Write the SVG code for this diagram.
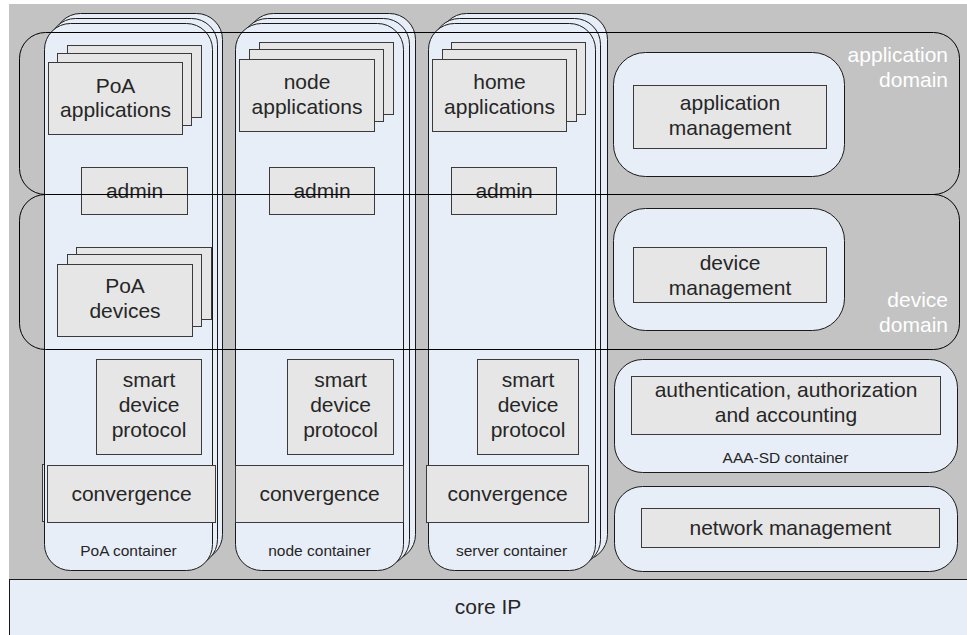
<svg xmlns="http://www.w3.org/2000/svg" width="967" height="635" viewBox="0 0 967 635">
<style>
.bg{fill:#c3c3c3;stroke:none}
.cont{fill:#e8eef8;stroke:#1a1a1a;stroke-width:1}
.box{fill:#e6e6e6;stroke:#3a3a3a;stroke-width:1}
.dom{fill:none;stroke:#000;stroke-width:1}
.t{font-family:"Liberation Sans",Arial,sans-serif;font-size:21px;fill:#262626;text-anchor:middle}
.s{font-family:"Liberation Sans",Arial,sans-serif;font-size:15.5px;fill:#262626;text-anchor:middle}
.w{font-family:"Liberation Sans",Arial,sans-serif;font-size:21px;fill:#ffffff;text-anchor:end}
</style>
<rect class="bg" x="9" y="4" width="958" height="576"/>

<g id="poa-container">
  <rect class="cont" x="54.5" y="13.5" width="168" height="547" rx="26"/>
  <rect class="cont" x="49.5" y="18.5" width="168" height="547" rx="26"/>
  <rect class="box" x="42.5" y="464.5" width="170" height="57"/>
  <rect class="cont" x="44.5" y="23.5" width="168" height="547" rx="26"/>
  <text class="s" x="128.5" y="556">PoA container</text>
</g>
<g id="node-container">
  <rect class="cont" x="247.5" y="13.5" width="168" height="547" rx="26"/>
  <rect class="cont" x="241.5" y="18.5" width="168" height="547" rx="26"/>
  <rect class="cont" x="235.5" y="23.5" width="168" height="547" rx="26"/>
  <text class="s" x="319.5" y="556">node container</text>
</g>
<g id="server-container">
  <rect class="cont" x="440.5" y="13.5" width="167" height="547" rx="26"/>
  <rect class="cont" x="433.5" y="18.5" width="167" height="547" rx="26"/>
  <rect class="cont" x="428.5" y="23.5" width="167" height="547" rx="26"/>
  <text class="s" x="511.5" y="556">server container</text>
</g>

<g id="poa-applications">
  <rect class="box" x="67.5" y="45.5" width="134" height="72"/>
  <rect class="box" x="57.5" y="53.5" width="134" height="72"/>
  <rect class="box" x="48.5" y="62.5" width="134" height="72"/>
  <text class="t" x="115.5" y="93">PoA</text>
  <text class="t" x="115.5" y="117">applications</text>
</g>
<g id="node-applications">
  <rect class="box" x="259.5" y="42.5" width="134" height="72"/>
  <rect class="box" x="249.5" y="49.5" width="134" height="72"/>
  <rect class="box" x="239.5" y="59.5" width="135" height="72"/>
  <text class="t" x="307" y="89">node</text>
  <text class="t" x="307" y="114">applications</text>
</g>
<g id="home-applications">
  <rect class="box" x="451.5" y="42.5" width="134" height="72"/>
  <rect class="box" x="442.5" y="49.5" width="134" height="72"/>
  <rect class="box" x="432.5" y="59.5" width="134" height="72"/>
  <text class="t" x="499.5" y="89">home</text>
  <text class="t" x="499.5" y="114">applications</text>
</g>

<g id="poa-admin">
  <rect class="box" x="81.5" y="167.5" width="106" height="47"/>
  <text class="t" x="134.5" y="198">admin</text>
</g>
<g id="node-admin">
  <rect class="box" x="269.5" y="167.5" width="105" height="47"/>
  <text class="t" x="322" y="198">admin</text>
</g>
<g id="home-admin">
  <rect class="box" x="451.5" y="167.5" width="105" height="47"/>
  <text class="t" x="504" y="198">admin</text>
</g>

<g id="poa-devices">
  <rect class="box" x="76.5" y="247.5" width="135" height="72"/>
  <rect class="box" x="67.5" y="254.5" width="134" height="72"/>
  <rect class="box" x="57.5" y="264.5" width="135" height="72"/>
  <text class="t" x="125" y="293">PoA</text>
  <text class="t" x="125" y="318">devices</text>
</g>

<g id="poa-sdp">
  <rect class="box" x="96.5" y="359.5" width="105" height="95"/>
  <text class="t" x="149" y="387">smart</text>
  <text class="t" x="149" y="412">device</text>
  <text class="t" x="149" y="437">protocol</text>
</g>
<g id="node-sdp">
  <rect class="box" x="287.5" y="359.5" width="106" height="95"/>
  <text class="t" x="340.5" y="387">smart</text>
  <text class="t" x="340.5" y="412">device</text>
  <text class="t" x="340.5" y="437">protocol</text>
</g>
<g id="server-sdp">
  <rect class="box" x="477.5" y="359.5" width="101" height="95"/>
  <text class="t" x="528" y="387">smart</text>
  <text class="t" x="528" y="412">device</text>
  <text class="t" x="528" y="437">protocol</text>
</g>

<g id="poa-convergence">
  <rect class="box" x="47.5" y="465.5" width="168" height="57"/>
  <text class="t" x="131.5" y="501">convergence</text>
</g>
<g id="node-convergence">
  <rect class="box" x="235.5" y="465.5" width="168" height="57"/>
  <text class="t" x="319.5" y="501">convergence</text>
</g>
<g id="server-convergence">
  <rect class="box" x="426.5" y="465.5" width="162" height="57"/>
  <text class="t" x="507.5" y="501">convergence</text>
</g>

<g id="application-management">
  <rect class="cont" x="613.5" y="52.5" width="231" height="124" rx="32"/>
  <rect class="box" x="633.5" y="85.5" width="193" height="63"/>
  <text class="t" x="730" y="110">application</text>
  <text class="t" x="730" y="135">management</text>
</g>
<g id="device-management">
  <rect class="cont" x="613.5" y="208.5" width="231" height="122" rx="32"/>
  <rect class="box" x="633.5" y="247.5" width="193" height="55"/>
  <text class="t" x="730" y="270">device</text>
  <text class="t" x="730" y="295">management</text>
</g>
<g id="aaa-sd-container">
  <rect class="cont" x="614.5" y="359.5" width="343" height="113" rx="28"/>
  <rect class="box" x="631.5" y="376.5" width="309" height="58"/>
  <text class="t" x="786" y="397">authentication, authorization</text>
  <text class="t" x="786" y="422">and accounting</text>
  <text class="s" x="785.5" y="463">AAA-SD container</text>
</g>
<g id="network-management">
  <rect class="cont" x="614.5" y="486.5" width="343" height="85" rx="28"/>
  <rect class="box" x="641.5" y="508.5" width="298" height="39"/>
  <text class="t" x="790.5" y="535">network management</text>
</g>

<g id="application-domain">
  <rect class="dom" x="19.5" y="32.5" width="940" height="162" rx="26"/>
  <text class="w" x="948" y="62">application</text>
  <text class="w" x="948" y="87">domain</text>
</g>
<g id="device-domain">
  <rect class="dom" x="19.5" y="194.5" width="940" height="155" rx="26"/>
  <text class="w" x="948" y="307">device</text>
  <text class="w" x="948" y="332">domain</text>
</g>

<g id="core-ip">
  <rect class="cont" x="9.5" y="579.5" width="960" height="60"/>
  <text class="t" x="488" y="614">core IP</text>
</g>

<g id="connectors"></g>
</svg>
